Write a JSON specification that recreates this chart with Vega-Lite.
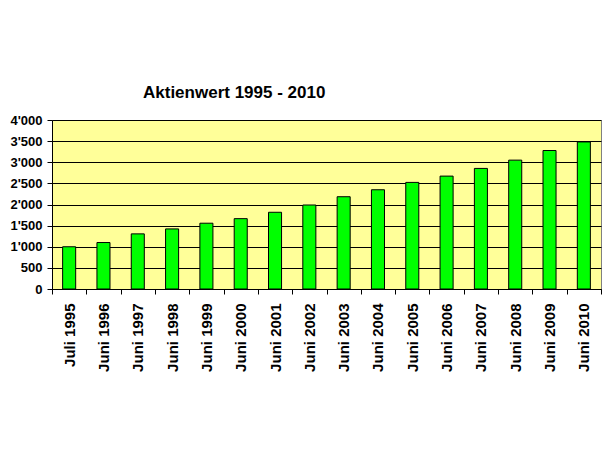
{
  "$schema": "https://vega.github.io/schema/vega-lite/v6.json",
  "autosize": "none",
  "width": 549,
  "height": 169,
  "padding": {"left": 52, "top": 120, "right": 7, "bottom": 170},
  "background": "white",
  "title": {
    "text": "Aktienwert 1995 - 2010",
    "font": "Liberation Sans",
    "fontSize": 17,
    "fontWeight": "bold",
    "color": "black",
    "anchor": "start",
    "frame": "group",
    "dx": 91,
    "dy": 15,
    "baseline": "alphabetic",
    "offset": 14
  },
  "data": {
    "values": [
      {"datum": "Juli 1995", "wert": 1000},
      {"datum": "Juni 1996", "wert": 1100},
      {"datum": "Juni 1997", "wert": 1305},
      {"datum": "Juni 1998", "wert": 1422},
      {"datum": "Juni 1999", "wert": 1557},
      {"datum": "Juni 2000", "wert": 1665},
      {"datum": "Juni 2001", "wert": 1816},
      {"datum": "Juni 2002", "wert": 1988},
      {"datum": "Juni 2003", "wert": 2184},
      {"datum": "Juni 2004", "wert": 2349},
      {"datum": "Juni 2005", "wert": 2523},
      {"datum": "Juni 2006", "wert": 2672},
      {"datum": "Juni 2007", "wert": 2854},
      {"datum": "Juni 2008", "wert": 3050},
      {"datum": "Juni 2009", "wert": 3278},
      {"datum": "Juni 2010", "wert": 3481}
    ]
  },
  "mark": {"type": "bar", "color": "#00FF00", "stroke": "black", "strokeWidth": 1, "width": {"band": 0.38}},
  "encoding": {
    "x": {
      "field": "datum",
      "type": "nominal",
      "sort": null,
      "scale": {"paddingInner": 0, "paddingOuter": 0},
      "axis": {
        "title": null,
        "labelAngle": 270,
        "labelFont": "Liberation Sans",
        "labelFontSize": 15,
        "labelFontWeight": "bold",
        "labelColor": "black",
        "labelPadding": 9,
        "tickBand": "extent",
        "tickSize": 5,
        "tickColor": "black",
        "domainColor": "black",
        "labelBaseline": "middle",
        "labelAlign": "right"
      }
    },
    "y": {
      "field": "wert",
      "type": "quantitative",
      "scale": {"domain": [0, 4000], "nice": false},
      "axis": {
        "title": null,
        "values": [0, 500, 1000, 1500, 2000, 2500, 3000, 3500, 4000],
        "labelExpr": "replace(format(datum.value, ','), ',', \"'\")",
        "labelFont": "Liberation Sans",
        "labelFontSize": 13,
        "labelFontWeight": "bold",
        "labelColor": "black",
        "labelPadding": 5,
        "tickSize": 5,
        "tickColor": "black",
        "domainColor": "black",
        "gridColor": "black",
        "gridOpacity": 1,
        "gridWidth": 1
      }
    }
  },
  "config": {
    "view": {"fill": "#FFFF99", "stroke": "#808080", "strokeWidth": 1}
  }
}
